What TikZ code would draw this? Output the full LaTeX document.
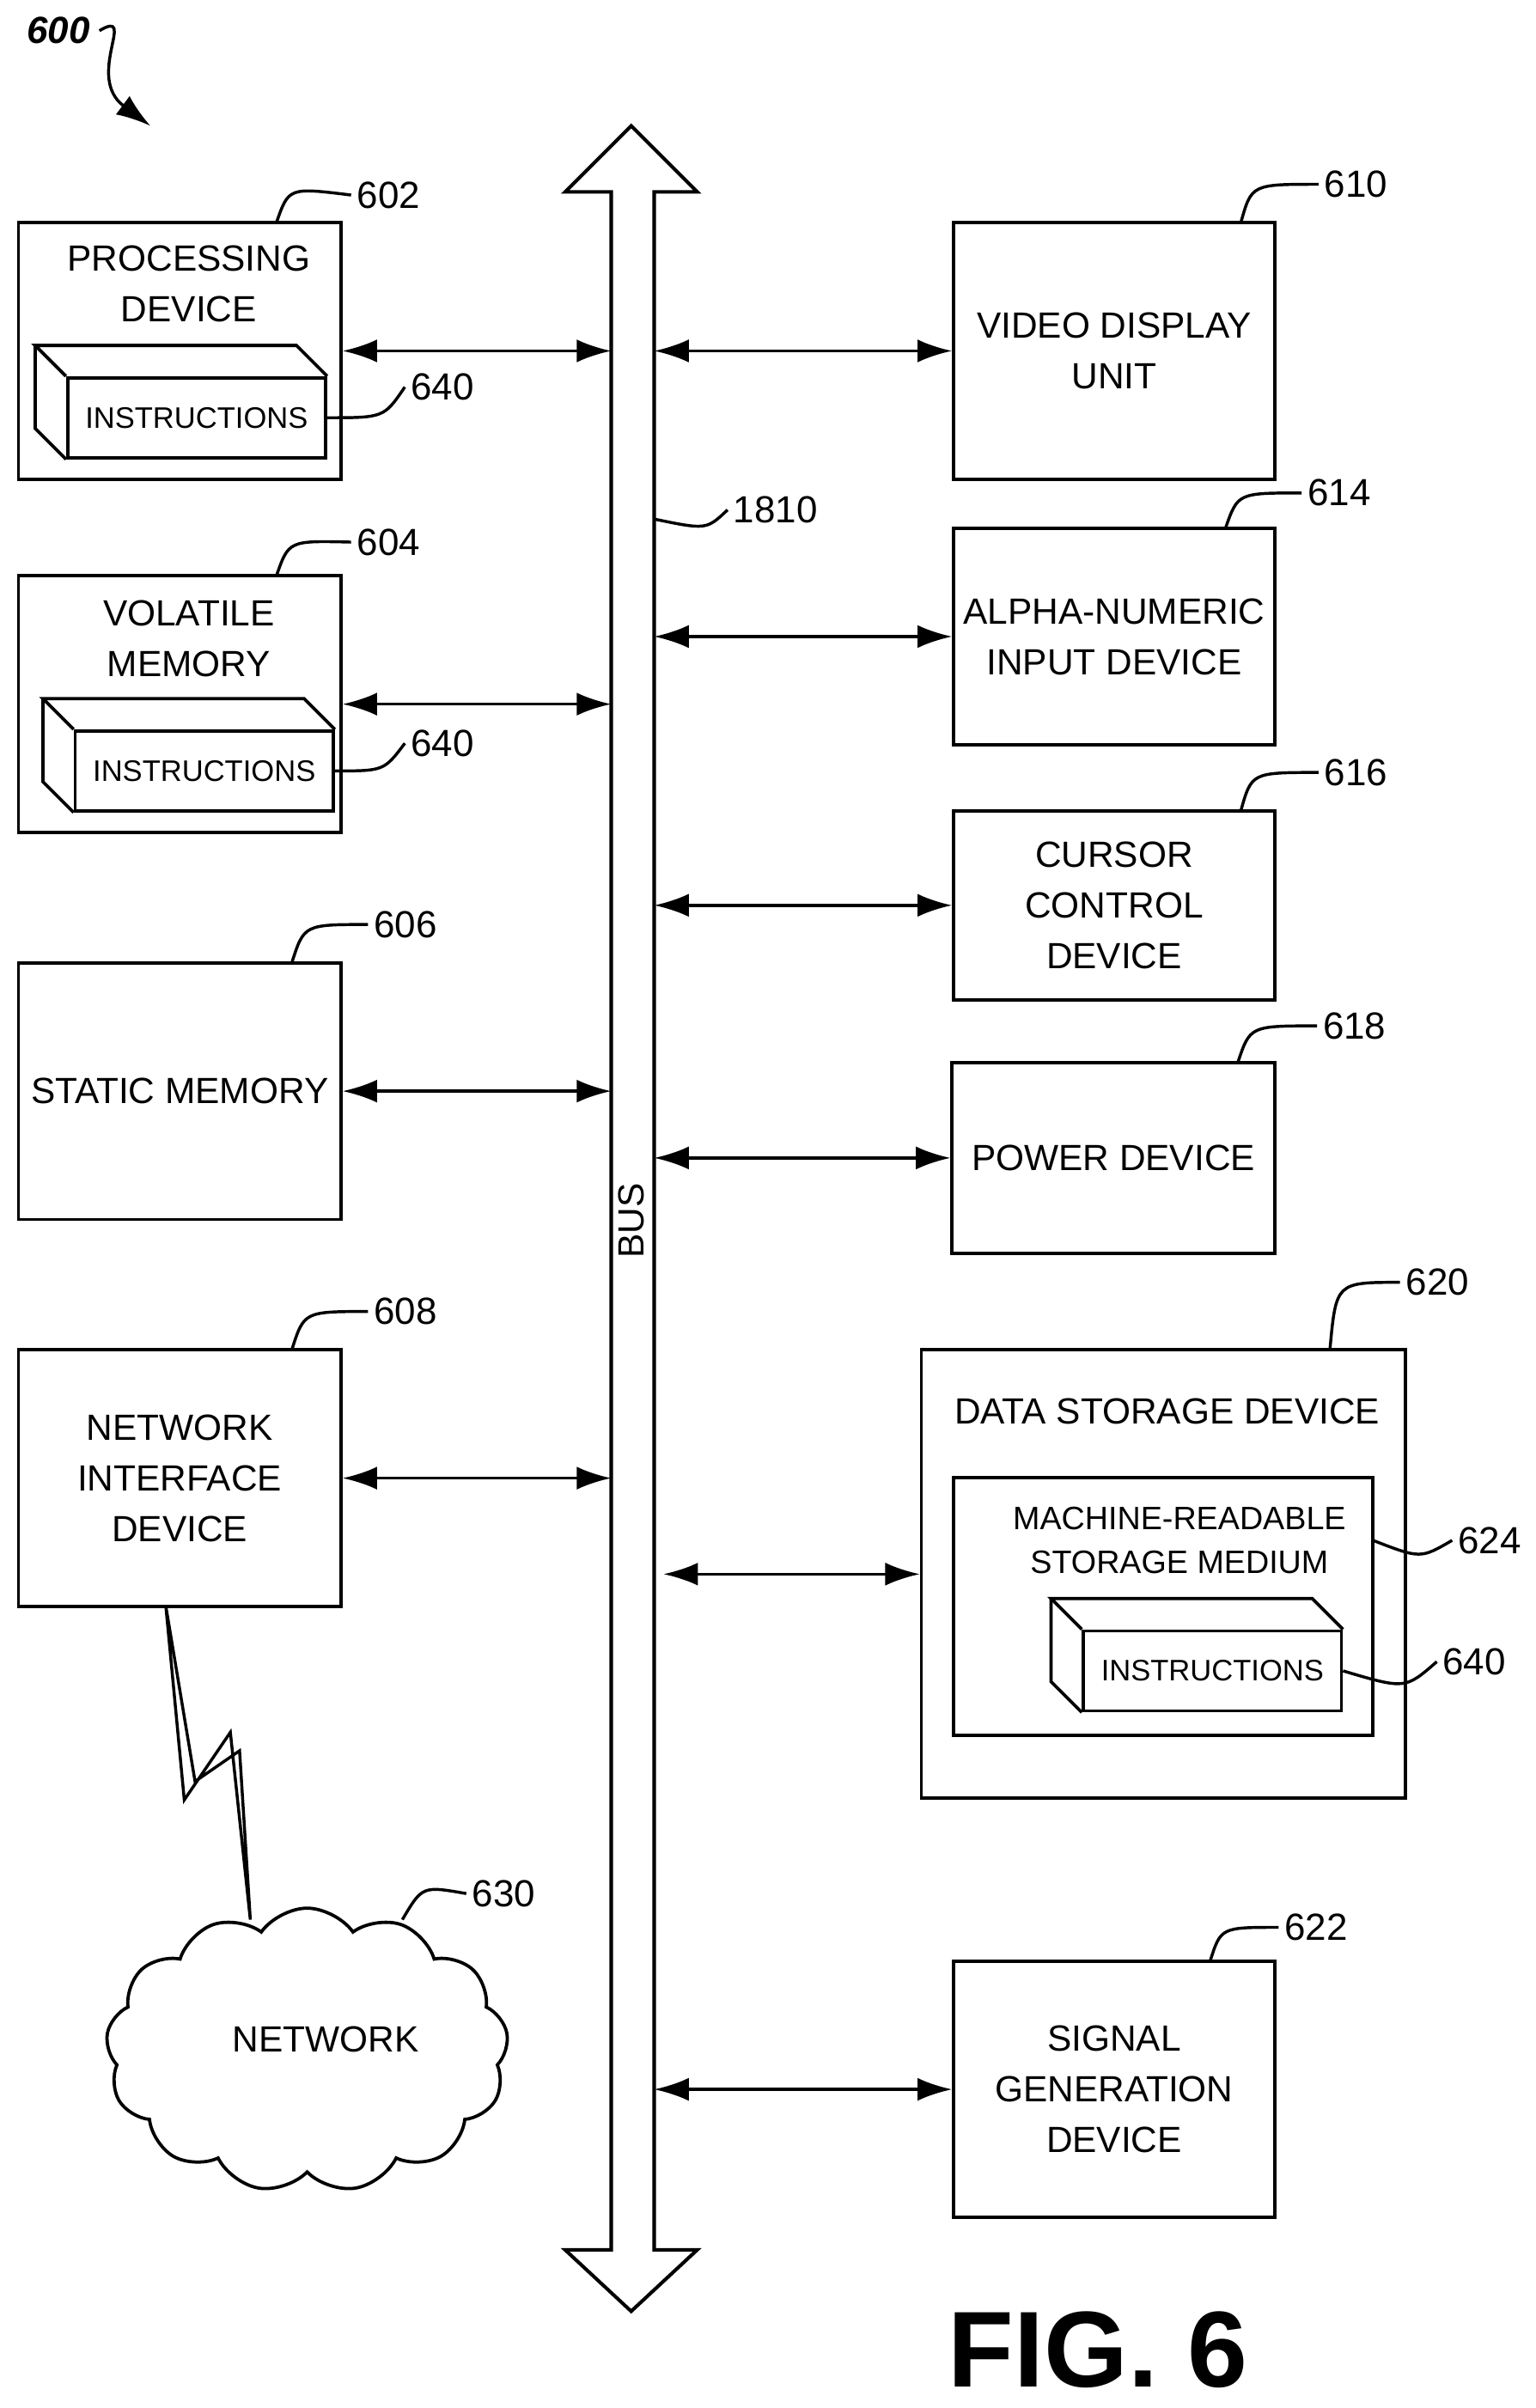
\documentclass[tikz,border=0pt]{standalone}
\usepackage{fontspec}
\setmainfont{Liberation Sans}
\usetikzlibrary{arrows.meta,shapes.symbols}

\tikzset{
  box/.style 2 args={draw, line width=1.2pt, minimum width={#1*0.02cm}, minimum height={#2*0.02cm}, align=center, inner sep=0pt},
  ibox/.style={draw, line width=1.2pt, fill=white, minimum width={168*0.02cm}, minimum height={52*0.02cm}, inner sep=0pt, font=\fontsize{11}{13}\selectfont},
  lbl/.style={font=\fontsize{14}{17}\selectfont, inner sep=2pt},
  lead/.style={line width=1.1pt},
  link/.style={line width=1.1pt, {Latex[length=0.45cm,width=0.3cm]}-{Latex[length=0.45cm,width=0.3cm]}},
}
\newcommand{\instrbox}[2]{%
  \node[ibox] (#1) at (#2) {INSTRUCTIONS};
  \draw[line width=1.2pt] (#1.north west) -- ++(-20,-20) -- ([shift={(-20,-20)}]#1.north east) -- (#1.north east);
  \draw[line width=1.2pt] ([shift={(-20,-20)}]#1.north west) -- ([shift={(-20,-20)}]#1.south west) -- (#1.south west);
}

\begin{document}
\begin{tikzpicture}[x=0.02cm, y=-0.02cm, font=\fontsize{13.5}{18.8}\selectfont, every node/.append style={align=center}]
\useasboundingbox (0,0) rectangle (1000,1568);

% bus
\draw[line width=1.3pt] (398,125) -- (368,125) -- (411,82) -- (454,125) -- (426,125) -- (426,1465)
  -- (454,1465) -- (411,1505) -- (368,1465) -- (398,1465) -- cycle;
\node[rotate=90] (bus) at (411,795) {BUS};
\coordinate (busL) at (398,0);
\coordinate (busR) at (426,0);

% left column
\node[box={210}{167}] (pd) at (117,228.5) {};
\node (pdt) at (123,185) {PROCESSING\\DEVICE};
\instrbox{i1}{128,272}
\node[box={210}{167}] (vm) at (117,458.5) {};
\node (vmt) at (123,416) {VOLATILE\\MEMORY};
\instrbox{i2}{133,502}
\node[box={210}{167}] (sm) at (117,710.5) {STATIC MEMORY};
\node[box={210}{167}] (ni) at (117,962.5) {NETWORK\\INTERFACE\\DEVICE};

% right column
\node[box={209}{167}] (vd) at (725.5,228.5) {VIDEO DISPLAY\\UNIT};
\node[box={209}{141}] (an) at (725.5,414.5) {ALPHA-NUMERIC\\INPUT DEVICE};
\node[box={209}{123}] (cc) at (725.5,589.5) {CURSOR\\CONTROL\\DEVICE};
\node[box={210}{124}] (pw) at (725,754) {POWER DEVICE};
\node[box={315}{292}] (ds) at (757.5,1025) {};
\node (dst) at (760,919) {DATA STORAGE DEVICE};
\node[box={273}{168}] (mr) at (757.5,1046) {};
\node[font=\fontsize{12}{16}\selectfont] (mrt) at (768,1003) {MACHINE-READABLE\\STORAGE MEDIUM};
\instrbox{i3}{789.5,1088}
\node[box={209}{167}] (sg) at (725.5,1360.5) {SIGNAL\\GENERATION\\DEVICE};

% network
\node[cloud, draw, line width=1.2pt, cloud puffs=13, cloud puff arc=110, aspect=1.4,
  minimum width={262*0.02cm}, minimum height={185*0.02cm}] (nw) at (200,1335) {};
\node (nwt) at (212,1328) {NETWORK};
\draw[line width=1.1pt, fill=white] (108,1046) -- (120,1172) -- (150,1128) -- (163,1250)
  -- (156,1140) -- (127,1160) -- cycle;

% connectors
\draw[link] (pd.east) -- (pd.east -| busL);
\draw[link] (vm.east) -- (vm.east -| busL);
\draw[link] (sm.east) -- (sm.east -| busL);
\draw[link] (ni.east) -- (ni.east -| busL);
\draw[link] (busR |- vd.west) -- (vd.west);
\draw[link] (busR |- an.west) -- (an.west);
\draw[link] (busR |- cc.west) -- (cc.west);
\draw[link] (busR |- pw.west) -- (pw.west);
\draw[link] ([xshift=0.12cm]busR |- ds.west) -- (ds.west);
\draw[link] (busR |- sg.west) -- (sg.west);

% reference labels
\node[lbl] (l602) at (253,127) {602};
\draw[lead] (180,145) .. controls (188,122) .. (l602.west);
\node[lbl] (l640a) at (288,252) {640};
\draw[lead] (i1.east) .. controls (250,272) .. (l640a.west);
\node[lbl] (l604) at (253,353) {604};
\draw[lead] (180,375) .. controls (188,352) .. (l604.west);
\node[lbl] (l640b) at (288,484) {640};
\draw[lead] (i2.east) .. controls (250,502) .. (l640b.west);
\node[lbl] (l606) at (264,602) {606};
\draw[lead] (190,627) .. controls (198,602) .. (l606.west);
\node[lbl] (l608) at (264,854) {608};
\draw[lead] (190,879) .. controls (198,854) .. (l608.west);
\node[lbl] (l1810) at (505,332) {1810};
\draw[lead] (426,338) .. controls (460,345) .. (l1810.west);
\node[lbl] (l610) at (883,120) {610};
\draw[lead] (808,145) .. controls (815,120) .. (l610.west);
\node[lbl] (l614) at (872,321) {614};
\draw[lead] (798,344) .. controls (806,321) .. (l614.west);
\node[lbl] (l616) at (883,503) {616};
\draw[lead] (808,528) .. controls (815,503) .. (l616.west);
\node[lbl] (l618) at (882,668) {618};
\draw[lead] (806,692) .. controls (814,668) .. (l618.west);
\node[lbl] (l620) at (936,835) {620};
\draw[lead] (866,879) .. controls (870,835) .. (l620.west);
\node[lbl] (l624) at (970,1003) {624};
\draw[lead] (894,1003) .. controls (925,1015) .. (l624.west);
\node[lbl] (l640c) at (960,1082) {640};
\draw[lead] (i3.east) .. controls (915,1100) .. (l640c.west);
\node[lbl] (l622) at (857,1255) {622};
\draw[lead] (788,1277) .. controls (795,1255) .. (l622.west);
\node[lbl] (l630) at (328,1233) {630};
\draw[lead] (262,1250) .. controls (275,1228) .. (l630.west);

\node[font=\bfseries\itshape\fontsize{14}{17}\selectfont] (l600) at (38,20) {600};
\draw[line width=1.1pt, -{Latex[length=0.45cm,width=0.3cm]}] (l600.east) .. controls (90,5) and (55,50) .. (98,82);

\node[font=\bfseries\fontsize{40}{48}\selectfont] (fig) at (715,1530) {FIG. 6};
\end{tikzpicture}
\end{document}
